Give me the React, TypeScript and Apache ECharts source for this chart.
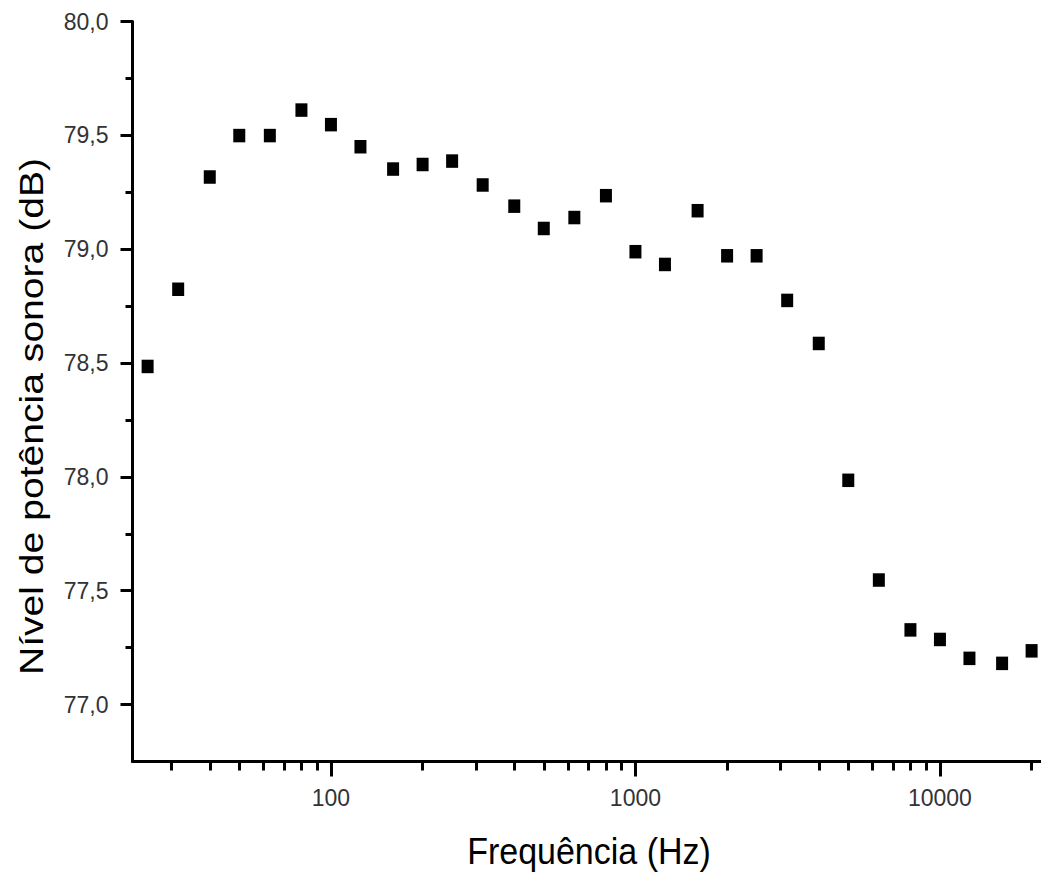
import React, { useEffect, useRef } from "react";
import * as echarts from "echarts";

// 1/3-octave band centre frequencies (Hz)
const frequencies = [25, 31.5, 40, 50, 63, 80, 100, 125, 160, 200, 250, 315, 400, 500, 630, 800, 1000, 1250, 1600, 2000, 2500, 3150, 4000, 5000, 6300, 8000, 10000, 12500, 16000, 20000];
// Sound power level (dB)
const levels = [78.485, 78.824, 79.317, 79.499, 79.499, 79.611, 79.547, 79.45, 79.352, 79.372, 79.387, 79.282, 79.189, 79.091, 79.139, 79.235, 78.989, 78.933, 79.169, 78.971, 78.971, 78.775, 78.586, 77.985, 77.547, 77.328, 77.286, 77.203, 77.181, 77.236];

const xMajorTicks = [100, 1000, 10000];
const xMinorTicks = [30, 40, 50, 60, 70, 80, 90, 200, 300, 400, 500, 600, 700, 800, 900, 2000, 3000, 4000, 5000, 6000, 7000, 8000, 9000, 20000];
const yMajorTicks = [77.0, 77.5, 78.0, 78.5, 79.0, 79.5, 80.0];
const yMinorTicks = [77.25, 77.75, 78.25, 78.75, 79.25, 79.75];

const xTitle = "Frequência (Hz)";
const yTitle = "Nível de potência sonora (dB)";

const FONT = "'Liberation Sans', Arial, sans-serif";

export default function App() {
  const ref = useRef<HTMLDivElement>(null);

  useEffect(() => {
    if (!ref.current) return;
    const chart = echarts.init(ref.current, undefined, { renderer: "svg" });
    const xMin = 22.3;
    const xMax = 22300;
    const axisLineStyle = { color: "#000", width: 3 };
    const tickStyle = { color: "#000", width: 3 };
    const option: any = {
      animation: false,
      backgroundColor: "#fff",
      grid: { left: 132.5, top: 21.5, width: 913.5, height: 740, containLabel: false },
      xAxis: [
        {
          type: "log",
          logBase: 10,
          min: xMin,
          max: xMax,
          gridIndex: 0,
          position: "bottom",
          axisLine: { show: true, lineStyle: axisLineStyle },
          axisTick: { show: true, inside: false, length: 15, customValues: xMajorTicks, lineStyle: tickStyle },
          axisLabel: {
            show: true,
            customValues: xMajorTicks,
            margin: 25,
            fontSize: 23,
            fontFamily: FONT,
            color: "#333",
            formatter: (v: number) => String(Math.round(v)),
          },
          splitLine: { show: false },
          minorTick: { show: false },
        },
        {
          type: "log",
          logBase: 10,
          min: xMin,
          max: xMax,
          gridIndex: 0,
          position: "bottom",
          axisLine: { show: false },
          axisTick: { show: true, inside: false, length: 9, customValues: xMinorTicks, lineStyle: tickStyle },
          axisLabel: { show: false },
          splitLine: { show: false },
        },
      ],
      yAxis: [
        {
          type: "value",
          min: 76.75,
          max: 80,
          position: "left",
          axisLine: { show: true, lineStyle: axisLineStyle },
          axisTick: { show: true, inside: false, length: 12, customValues: yMajorTicks, lineStyle: tickStyle },
          axisLabel: {
            show: true,
            customValues: yMajorTicks,
            margin: 24,
            fontSize: 23,
            fontFamily: FONT,
            color: "#333",
            formatter: (v: number) => v.toFixed(1).replace(".", ","),
          },
          splitLine: { show: false },
        },
        {
          type: "value",
          min: 76.75,
          max: 80,
          position: "left",
          axisLine: { show: false },
          axisTick: { show: true, inside: false, length: 7, customValues: yMinorTicks, lineStyle: tickStyle },
          axisLabel: { show: false },
          splitLine: { show: false },
        },
      ],
      graphic: [
        {
          type: "text",
          x: 589,
          y: 851,
          scaleY: 1.06,
          style: {
            text: xTitle,
            fontSize: 34,
            fontFamily: FONT,
            fill: "#000",
            align: "center",
            verticalAlign: "middle",
          },
        },
        {
          type: "text",
          x: 31,
          y: 416.5,
          rotation: Math.PI / 2,
          scaleX: 1.15,
          style: {
            text: yTitle,
            fontSize: 34,
            fontFamily: FONT,
            fill: "#000",
            align: "center",
            verticalAlign: "middle",
          },
        },
      ],
      series: [
        {
          type: "scatter",
          xAxisIndex: 0,
          yAxisIndex: 0,
          symbol: "rect",
          symbolSize: [12, 13.5],
          itemStyle: { color: "#000", opacity: 1 },
          data: frequencies.map((f, i) => [f, levels[i]]),
        },
      ],
    };
    chart.setOption(option);
    return () => chart.dispose();
  }, []);

  return (
    <div style={{ position: "absolute", left: 0, top: 0, width: 1041, height: 882, overflow: "hidden", background: "#fff" }}>
      <div ref={ref} style={{ width: 1070, height: 882 }} />
    </div>
  );
}
